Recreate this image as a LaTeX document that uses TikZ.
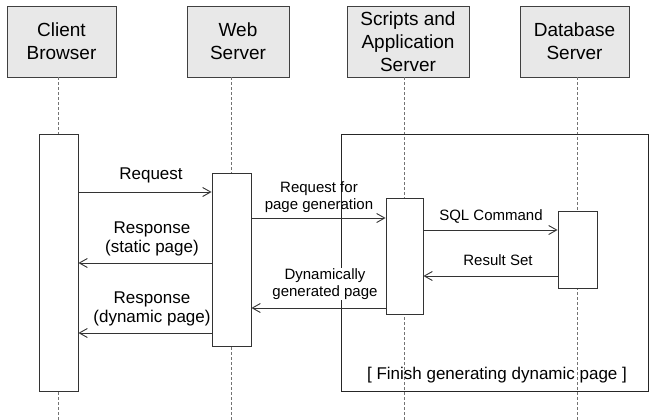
\documentclass[tikz,border=0pt]{standalone}
\usepackage{fontspec}
\setmainfont{Liberation Sans}
\usetikzlibrary{arrows.meta}
\begin{document}
\begin{tikzpicture}[x=1pt,y=-1pt,
  head/.style={draw=black!75, fill=black!9, line width=0.9pt, minimum height=71pt, align=center, inner sep=0pt, font=\fontsize{19}{23}\selectfont},
  act/.style={draw=black!80, fill=white, line width=0.9pt, inner sep=0pt},
  life/.style={draw=black!55, dash pattern=on 3pt off 2pt, line width=0.7pt},
  msg/.style={draw=black!80, line width=0.9pt, -{Straight Barb[length=8pt,width=9pt]}},
  lbl/.style={font=\fontsize{17}{19.5}\selectfont, align=center, inner sep=1pt},
  slbl/.style={font=\fontsize{15}{17.5}\selectfont, align=center, inner sep=1pt},
  framebox/.style={draw=black!85, line width=0.9pt, inner sep=0pt}]
\useasboundingbox (0,0) rectangle (653,420);
% headers
\node[head, minimum width=109pt] (ch) at (61.5,41.5) {Client\\Browser};
\node[head, minimum width=102pt] (wh) at (238,41.5) {Web\\Server};
\node[head, minimum width=122pt] (sh) at (408,41.5) {Scripts and\\Application\\Server};
\node[head, minimum width=109pt] (dh) at (574.5,41.5) {Database\\Server};
% reference levels
\coordinate (bot) at (0,420);
\coordinate (m1) at (0,192);
\coordinate (m2) at (0,263);
\coordinate (m3) at (0,333);
\coordinate (m4) at (0,218);
\coordinate (m5) at (0,308);
\coordinate (m6) at (0,230);
\coordinate (m7) at (0,276);
% activation anchors (positions)
\coordinate (cax) at (58.5,0);
\coordinate (wax) at (231.5,0);
\coordinate (sax) at (404.5,0);
\coordinate (dax) at (577.5,0);
% lifelines
\draw[life] (cax |- ch.south) -- (cax |- bot);
\draw[life] (wax |- wh.south) -- (wax |- bot);
\draw[life] (sax |- sh.south) -- (sax |- bot);
\draw[life] (dax |- dh.south) -- (dax |- bot);
% frame
\node[framebox, minimum width=307pt, minimum height=257pt] (frame) at (494.5,262.5) {};
% activation boxes
\node[act, minimum width=39pt, minimum height=257pt] (ca) at (58.5,262.5) {};
\node[act, minimum width=39pt, minimum height=173pt] (wa) at (231.5,259.5) {};
\node[act, minimum width=37pt, minimum height=116pt] (sa) at (404.5,256) {};
\node[act, minimum width=39pt, minimum height=77pt] (da) at (577.5,249.5) {};
% messages
\draw[msg] (ca.east |- m1) -- (wa.west |- m1);
\draw[msg] (wa.west |- m2) -- (ca.east |- m2);
\draw[msg] (wa.west |- m3) -- (ca.east |- m3);
\draw[msg] (wa.east |- m4) -- (sa.west |- m4);
\draw[msg] (sa.west |- m5) -- (wa.east |- m5);
\draw[msg] (sa.east |- m6) -- (da.west |- m6);
\draw[msg] (da.west |- m7) -- (sa.east |- m7);
% labels
\node[lbl] (l1) at (151,175) {Request};
\node[lbl] (l2) at (152,239) {Response\\(static page)};
\node[lbl] (l3) at (152,309) {Response\\(dynamic page)};
\node[slbl] (l4) at (319,197) {Request for\\page generation};
\node[slbl, fill=white, inner sep=0.5pt] (l5) at (325,284) {Dynamically\\generated page};
\node[slbl] (l6) at (491,216) {SQL Command};
\node[slbl] (l7) at (498,260) {Result Set};
\node[lbl] (l8) at (497,375) {[ Finish generating dynamic page ]};
\end{tikzpicture}
\end{document}
